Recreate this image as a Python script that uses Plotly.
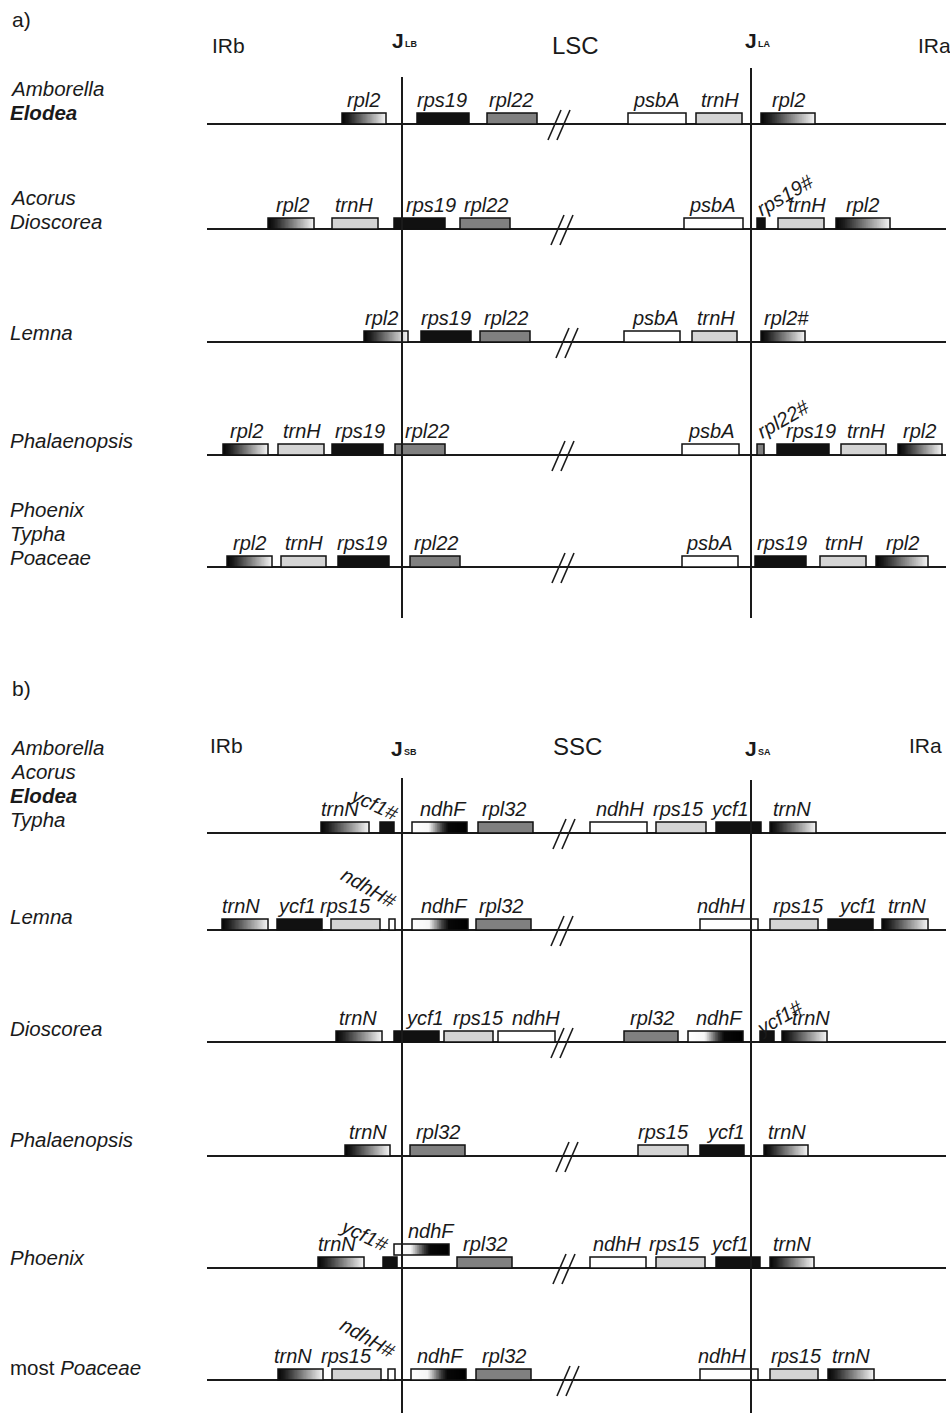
import numpy as np
import plotly.graph_objects as go

W, H = 950, 1413
FONT = "Liberation Sans, Arial, Helvetica, sans-serif"

# ======================= DATA =======================
# ---- panel a) : LSC / IR junctions ----
a_species = [["<i>Amborella</i>", "<b><i>Elodea</i></b>"],
             ["<i>Acorus</i>", "<i>Dioscorea</i>"],
             ["<i>Lemna</i>"],
             ["<i>Phalaenopsis</i>"],
             ["<i>Phoenix</i>", "<i>Typha</i>", "<i>Poaceae</i>"]]
a_gene_row = [0, 0, 0, 0, 0, 0,
              1, 1, 1, 1, 1, 1, 1, 1,
              2, 2, 2, 2, 2, 2,
              3, 3, 3, 3, 3, 3, 3, 3, 3,
              4, 4, 4, 4, 4, 4, 4, 4]
a_gene_name = ["rpl2", "rps19", "rpl22", "psbA", "trnH", "rpl2",
               "rpl2", "trnH", "rps19", "rpl22", "psbA", "rps19#", "trnH", "rpl2",
               "rpl2", "rps19", "rpl22", "psbA", "trnH", "rpl2#",
               "rpl2", "trnH", "rps19", "rpl22", "psbA", "rpl22#", "rps19", "trnH", "rpl2",
               "rpl2", "trnH", "rps19", "rpl22", "psbA", "rps19", "trnH", "rpl2"]
a_gene_start = [342, 417, 487, 628, 696, 761,
                268, 332, 394, 460, 684, 757, 778, 836,
                364, 421, 480, 624, 692, 761,
                223, 278, 332, 395, 682, 757, 777, 841, 898,
                227, 281, 338, 410, 682, 755, 820, 876]
a_gene_end = [386, 469, 537, 686, 742, 815,
              314, 378, 445, 510, 743, 765, 824, 890,
              408, 471, 530, 680, 737, 805,
              268, 324, 383, 445, 739, 764, 829, 886, 942,
              272, 326, 389, 460, 738, 806, 866, 928]
a_gene_kind = ["grad", "black", "gray", "white", "light", "grad",
               "grad", "light", "black", "gray", "white", "black", "light", "grad",
               "grad", "black", "gray", "white", "light", "grad",
               "grad", "light", "black", "gray", "white", "gray", "black", "light", "grad",
               "grad", "light", "black", "gray", "white", "black", "light", "grad"]

# ---- panel b) : SSC / IR junctions ----
b_species = [["<i>Amborella</i>", "<i>Acorus</i>", "<b><i>Elodea</i></b>", "<i>Typha</i>"],
             ["<i>Lemna</i>"],
             ["<i>Dioscorea</i>"],
             ["<i>Phalaenopsis</i>"],
             ["<i>Phoenix</i>"],
             ["most <i>Poaceae</i>"]]
b_gene_row = [0, 0, 0, 0, 0, 0, 0, 0,
              1, 1, 1, 1, 1, 1, 1, 1, 1, 1,
              2, 2, 2, 2, 2, 2, 2, 2,
              3, 3, 3, 3, 3,
              4, 4, 4, 4, 4, 4, 4, 4,
              5, 5, 5, 5, 5, 5, 5, 5]
b_gene_name = ["trnN", "ycf1#", "ndhF", "rpl32", "ndhH", "rps15", "ycf1", "trnN",
               "trnN", "ycf1", "rps15", "ndhH#", "ndhF", "rpl32", "ndhH", "rps15", "ycf1", "trnN",
               "trnN", "ycf1", "rps15", "ndhH", "rpl32", "ndhF", "ycf1#", "trnN",
               "trnN", "rpl32", "rps15", "ycf1", "trnN",
               "trnN", "ycf1#", "ndhF", "rpl32", "ndhH", "rps15", "ycf1", "trnN",
               "trnN", "rps15", "ndhH#", "ndhF", "rpl32", "ndhH", "rps15", "trnN"]
b_gene_start = [321, 380, 412, 478, 590, 656, 716, 770,
                222, 277, 331, 389, 412, 476, 700, 770, 828, 882,
                336, 394, 444, 498, 624, 688, 760, 782,
                345, 410, 638, 700, 764,
                318, 383, 394, 457, 590, 656, 716, 770,
                278, 332, 388, 411, 476, 700, 770, 828]
b_gene_end = [369, 394, 467, 533, 647, 706, 761, 816,
              268, 322, 380, 395, 468, 531, 758, 818, 873, 928,
              382, 439, 493, 555, 678, 743, 774, 827,
              390, 465, 688, 744, 808,
              364, 397, 449, 512, 646, 705, 760, 814,
              323, 381, 395, 466, 531, 758, 818, 874]
b_gene_kind = ["grad", "black", "grad_r", "gray", "white", "light", "black", "grad",
               "grad", "black", "light", "white", "grad_r", "gray", "white", "light", "black", "grad",
               "grad", "black", "light", "white", "gray", "grad_r", "black", "grad",
               "grad", "gray", "light", "black", "grad",
               "grad", "black", "grad_r", "gray", "white", "light", "black", "grad",
               "grad", "light", "white", "grad_r", "gray", "white", "light", "grad"]

# ======================= LAYOUT / STYLE =======================
a_row_y = [124, 229, 342, 455, 567]
b_row_y = [833, 930, 1042, 1156, 1268, 1380]
a_species_y = [[88, 112], [197, 221], [332], [440], [509, 533, 557]]
b_species_y = [[747, 771, 795, 819], [916], [1028], [1139], [1257], [1367]]
a_break_x = [548, 551, 556, 552, 552]
b_break_x = [553, 551, 551, 556, 553, 557]

a_label_x = [363, 442, 511, 656, 720, 788,
             292, 354, 431, 486, 712, 785, 807, 862,
             381, 446, 506, 655, 716, 786,
             246, 302, 360, 427, 711, 783, 811, 866, 919,
             249, 304, 362, 436, 709, 782, 844, 902]
a_label_dy = {11: -10, 25: -12}
a_label_ang = {11: -30, 25: -30}
b_label_x = [340, 374, 443, 504, 620, 678, 729, 792,
             241, 296, 345, 369, 444, 501, 721, 798, 857, 907,
             358, 424, 478, 536, 652, 719, 779, 811,
             368, 438, 663, 725, 787,
             337, 364, 431, 485, 617, 674, 729, 792,
             293, 346, 368, 440, 504, 722, 796, 851]
b_label_dy = {1: -5, 11: -18, 24: 0, 32: -9, 33: 0, 41: -18}
b_label_ang = {1: 25, 11: 30, 24: -30, 32: 25, 41: 30}
b_gene_lift = {33: 13}

SOLID = {"black": "#111111", "gray": "#808080", "light": "#d4d4d4", "white": "#ffffff"}
GRAD_SCALES = {
    "grad": [[0, "#050505"], [0.15, "#1e1e1e"], [1, "#f4f4f4"]],
    "grad_r": [[0, "#ffffff"], [0.3, "#f6f6f6"], [0.55, "#3a3a3a"], [0.66, "#070707"], [1, "#000000"]],
}
BOX_H = 11
LABEL_OFF = 24
LINE_COL = "#1a1a1a"

fig = go.Figure()
shapes = []
annotations = []


def ann(x, y, text, size, xanchor="center", yanchor="middle", angle=0, italic=False):
    annotations.append(dict(
        x=x, y=y, xref="x", yref="y", text=text, showarrow=False,
        xanchor=xanchor, yanchor=yanchor, textangle=angle,
        font=dict(family=FONT, size=size, color="#1a1a1a",
                  style="italic" if italic else "normal")))


def draw_panel(rows_y, species, species_y, g_row, g_name, g_start, g_end, g_kind,
               lab_x, lab_dy, lab_ang, lift, breaks_x):
    # row lines
    for y in rows_y:
        shapes.append(dict(type="line", xref="x", yref="y", x0=207, x1=946, y0=y, y1=y,
                           line=dict(color=LINE_COL, width=2), layer="below"))
    # break marks
    for y, bx in zip(rows_y, breaks_x):
        for off in (0, 9):
            fig.add_trace(go.Scatter(x=[bx + off, bx + off + 13], y=[y + 16, y - 14],
                                     mode="lines", line=dict(color=LINE_COL, width=1.6),
                                     hoverinfo="skip", showlegend=False))
    # species names
    for names, ys in zip(species, species_y):
        for nm, yy in zip(names, ys):
            ann(8, yy, nm, 20.5, xanchor="left")
    # genes
    for i in range(len(g_name)):
        base = rows_y[g_row[i]] - lift.get(i, 0)
        x0, x1 = g_start[i], g_end[i]
        y0, y1 = base - BOX_H, base
        kind = g_kind[i]
        if kind in GRAD_SCALES:
            n = 80
            edges = np.linspace(x0, x1, n + 1)
            z = [np.linspace(0, 1, n).tolist()]
            fig.add_trace(go.Heatmap(x=edges, y=[y0, y1], z=z, zmin=0, zmax=1,
                                     colorscale=GRAD_SCALES[kind], showscale=False,
                                     hoverinfo="skip"))
            shapes.append(dict(type="rect", xref="x", yref="y", x0=x0, x1=x1, y0=y0, y1=y1,
                               line=dict(color="#111111", width=1.5), fillcolor="rgba(0,0,0,0)",
                               layer="above"))
        else:
            shapes.append(dict(type="rect", xref="x", yref="y", x0=x0, x1=x1, y0=y0, y1=y1,
                               line=dict(color="#111111", width=1.5), fillcolor=SOLID[kind],
                               layer="above"))
        ang = lab_ang.get(i, 0)
        ann(lab_x[i], base - LABEL_OFF + lab_dy.get(i, 0), g_name[i], 20, angle=ang, italic=True)


draw_panel(a_row_y, a_species, a_species_y, a_gene_row, a_gene_name, a_gene_start,
           a_gene_end, a_gene_kind, a_label_x, a_label_dy, a_label_ang, {}, a_break_x)
draw_panel(b_row_y, b_species, b_species_y, b_gene_row, b_gene_name, b_gene_start,
           b_gene_end, b_gene_kind, b_label_x, b_label_dy, b_label_ang, b_gene_lift, b_break_x)

# junction lines
for x, y0, y1 in [(402, 77, 618), (751, 68, 618), (402, 778, 1413), (751, 780, 1413)]:
    shapes.append(dict(type="line", xref="x", yref="y", x0=x, x1=x, y0=y0, y1=y1,
                       line=dict(color=LINE_COL, width=2), layer="above"))

# headers
ann(10, 19, "a)", 21, xanchor="left")
ann(10, 688, "b)", 21, xanchor="left")
ann(210, 45, "IRb", 21, xanchor="left")
ann(208, 745, "IRb", 21, xanchor="left")
ann(575, 45, "LSC", 24)
ann(577, 746, "SSC", 24)
ann(916, 45, "IRa", 21, xanchor="left")
ann(907, 745, "IRa", 21, xanchor="left")
for jx, jy, sub in [(398, 40, "LB"), (751, 40, "LA"), (397, 748, "SB"), (751, 748, "SA")]:
    ann(jx, jy, "<b>J</b>", 21)
    ann(jx + 13, jy + 4, "<b>" + sub + "</b>", 9)

fig.update_layout(
    width=W, height=H, margin=dict(l=0, r=0, t=0, b=0),
    paper_bgcolor="white", plot_bgcolor="white", showlegend=False,
    xaxis=dict(range=[0, W], visible=False, fixedrange=True),
    yaxis=dict(range=[H, 0], visible=False, fixedrange=True),
    shapes=shapes, annotations=annotations,
)

fig.write_html("out.html", config={"displayModeBar": False},
               post_script="document.body.style.margin='0';")
